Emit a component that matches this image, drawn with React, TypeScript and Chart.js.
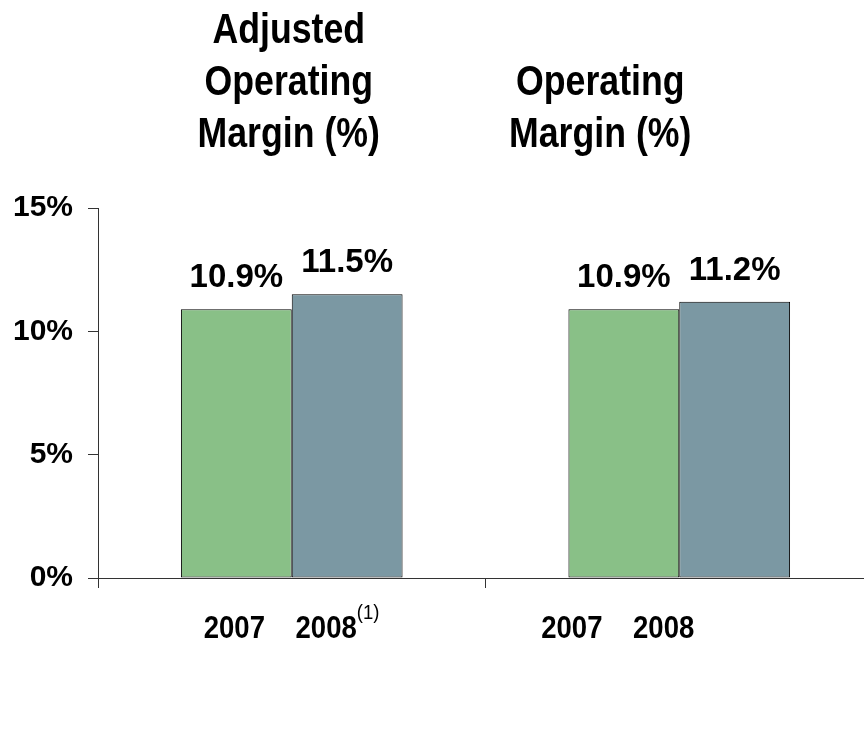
import React, { useEffect, useRef } from "react";
import { Chart, registerables } from "chart.js";

Chart.register(...registerables);

const categories = ["Adjusted Operating Margin (%)", "Operating Margin (%)"];
const titleLines = [["Adjusted", "Operating", "Margin (%)"], ["Operating", "Margin (%)"]];
const seriesNames = ["2007", "2008"];
const values2007 = [10.9, 10.9];
const values2008 = [11.5, 11.2];
const footnotes = [["", "(1)"], ["", ""]];
const yTicks = [0, 5, 10, 15];

const GREEN = "#89c087";
const SLATE = "#7b98a3";
const SANS = "'Liberation Sans', Arial, Helvetica, sans-serif";

function fillScaled(ctx: CanvasRenderingContext2D, text: string, x: number, y: number, sx: number) {
  ctx.save();
  ctx.translate(x, y);
  ctx.scale(sx, 1);
  ctx.fillText(text, 0, 0);
  ctx.restore();
}

const textPlugin = {
  id: "textPlugin",
  afterDraw(chart: any) {
    const ctx = chart.ctx as CanvasRenderingContext2D;
    const xs = chart.scales.x;
    ctx.save();
    ctx.fillStyle = "#000";
    // Titles
    const titleShift = [-3, -79];
    ctx.font = `bold 42px ${SANS}`;
    ctx.textAlign = "center";
    ctx.textBaseline = "alphabetic";
    titleLines.forEach((lines, i) => {
      const cx = xs.getPixelForValue(i) + titleShift[i];
      const n = lines.length;
      lines.forEach((ln, k) => {
        fillScaled(ctx, ln, cx, 147 - 52 * (n - 1 - k), 0.85);
      });
    });
    // Value labels
    ctx.font = `bold 33px ${SANS}`;
    chart.data.datasets.forEach((ds: any, d: number) => {
      const meta = chart.getDatasetMeta(d);
      meta.data.forEach((bar: any, i: number) => {
        ctx.fillText(ds.data[i].toFixed(1) + "%", bar.x, bar.y - 22);
      });
    });
    // Year labels under the axis
    const yearShift = [[-2, -21], [-52, -71]];
    const sx = 0.86;
    chart.data.datasets.forEach((ds: any, d: number) => {
      const meta = chart.getDatasetMeta(d);
      meta.data.forEach((bar: any, i: number) => {
        const cx = bar.x + yearShift[i][d];
        ctx.font = `bold 32px ${SANS}`;
        ctx.textAlign = "center";
        fillScaled(ctx, seriesNames[d], cx, 638, sx);
        const fn = footnotes[i][d];
        if (fn) {
          const w = ctx.measureText(seriesNames[d]).width * sx;
          ctx.font = `21px ${SANS}`;
          ctx.textAlign = "left";
          fillScaled(ctx, fn, cx + w / 2, 619, 0.88);
        }
      });
    });
    ctx.restore();
  },
};

export default function App() {
  const ref = useRef<HTMLCanvasElement>(null);
  useEffect(() => {
    if (!ref.current) return;
    const chart = new Chart(ref.current, {
      type: "bar",
      data: {
        labels: categories,
        datasets: [
          {
            label: seriesNames[0],
            data: values2007,
            backgroundColor: GREEN,
            borderColor: "#000",
            borderWidth: 1,
            borderSkipped: false,
            categoryPercentage: 0.572,
            barPercentage: 1,
          },
          {
            label: seriesNames[1],
            data: values2008,
            backgroundColor: SLATE,
            borderColor: "#000",
            borderWidth: 1,
            borderSkipped: false,
            categoryPercentage: 0.572,
            barPercentage: 1,
          },
        ],
      },
      options: {
        responsive: false,
        animation: false,
        layout: { padding: { top: 208, right: 7, left: 0, bottom: 0 } },
        plugins: {
          legend: { display: false },
          tooltip: { enabled: false },
          title: { display: false },
        },
        scales: {
          x: {
            grid: {
              display: true,
              drawOnChartArea: false,
              drawTicks: true,
              tickLength: 10,
              color: "#333",
              offset: true,
            },
            border: { display: true, color: "#333", width: 1 },
            ticks: { display: false },
            afterFit: (s: any) => {
              s.height = 165;
            },
          },
          y: {
            min: 0,
            max: 15,
            afterBuildTicks: (s: any) => {
              s.ticks = yTicks.map((v) => ({ value: v }));
            },
            grid: {
              display: true,
              drawOnChartArea: false,
              drawTicks: true,
              tickLength: 10,
              color: "#333",
            },
            border: { display: true, color: "#333", width: 1 },
            ticks: {
              padding: 15,
              color: "#000",
              font: { family: SANS, size: 30, weight: "bold" },
              callback: (v: any) => v + "%",
            },
            afterFit: (s: any) => {
              s.width = 98;
            },
          },
        },
      },
      plugins: [textPlugin],
    });
    return () => chart.destroy();
  }, []);
  return (
    <div style={{ position: "absolute", left: 0, top: 0, width: 864, height: 743, overflow: "hidden", background: "#fff" }}>
      <canvas ref={ref} width={880} height={743} style={{ display: "block" }} />
    </div>
  );
}
